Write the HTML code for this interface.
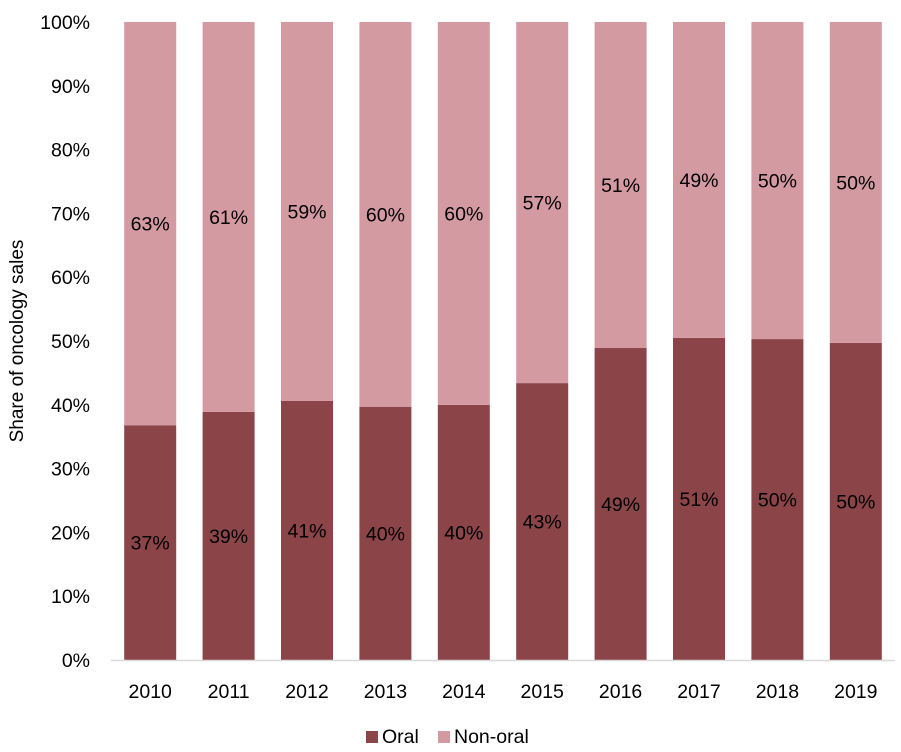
<!DOCTYPE html>
<html><head><meta charset="utf-8"><style>
body{margin:0;background:#fff;}
svg{display:block;font-family:"Liberation Sans","DejaVu Sans",sans-serif;}
</style></head><body>
<svg id="chart" width="901" height="752" viewBox="0 0 901 752">
<g id="grid"></g><g id="bars"></g><g id="labels"></g>
<text transform="translate(23,341) rotate(-90)" text-anchor="middle" font-size="19" fill="#000">Share of oncology sales</text>
<g>
<rect x="366" y="731" width="12" height="12" fill="#8B4448"/>
<text x="382" y="743" font-size="19.5">Oral</text>
<rect x="438" y="731" width="12" height="12" fill="#D49AA2"/>
<text x="454" y="743" font-size="19.5">Non-oral</text>
</g>
</svg>
<script>
const years=["2010","2011","2012","2013","2014","2015","2016","2017","2018","2019"];
const oral=[36.8,38.9,40.6,39.7,40.0,43.4,48.9,50.5,50.3,49.7];
const oralLabels=["37%","39%","41%","40%","40%","43%","49%","51%","50%","50%"];
const nonOralLabels=["63%","61%","59%","60%","60%","57%","51%","49%","50%","50%"];
const yTicks=[0,10,20,30,40,50,60,70,80,90,100];
const NS="http://www.w3.org/2000/svg";
const y0=660,y1=22,xL=111,step=78.4,bw=52;
const y=v=>y0-(v/100)*(y0-y1);
const xc=i=>xL+step*(i+0.5);
function mk(t,a,p){const e=document.createElementNS(NS,t);for(const k in a)e.setAttribute(k,a[k]);p.appendChild(e);return e;}
const g=document.getElementById('grid'),b=document.getElementById('bars'),l=document.getElementById('labels');
yTicks.forEach(t=>{const e=mk('text',{x:90,y:y(t)+7,'text-anchor':'end','font-size':19.5},g);e.textContent=t+'%';

});
years.forEach((yr,i)=>{
 const o=mk('rect',{x:xc(i)-bw/2,y:y(oral[i]),width:bw,height:y(0)-y(oral[i]),fill:'#8B4448'},b);
 
 
 const n=mk('rect',{x:xc(i)-bw/2,y:y(100),width:bw,height:y(oral[i])-y(100),fill:'#D49AA2'},b);
 
 
 const t1=mk('text',{x:xc(i),y:(y(0)+y(oral[i]))/2+7,'text-anchor':'middle','font-size':19.5},l);t1.textContent=oralLabels[i];
 
 
 const t2=mk('text',{x:xc(i),y:(y(100)+y(oral[i]))/2+7,'text-anchor':'middle','font-size':19.5},l);t2.textContent=nonOralLabels[i];
 
 
 const xt=mk('text',{x:xc(i),y:698,'text-anchor':'middle','font-size':19.5},l);xt.textContent=yr;
 
 
});
const ax=mk('line',{x1:xL,x2:xL+step*10,y1:y0+0.5,y2:y0+0.5,stroke:'#d9d9d9','stroke-width':1.5},l);


</script>
</body></html>
